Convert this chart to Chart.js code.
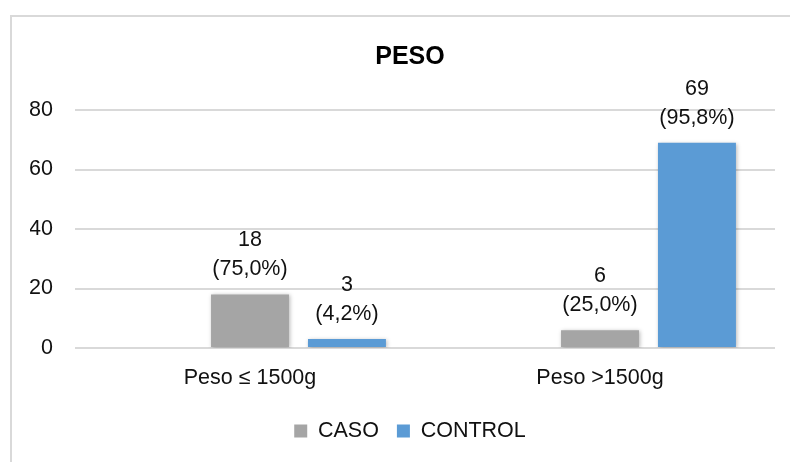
<!DOCTYPE html>
<html>
<head>
<meta charset="utf-8">
<script src="https://cdn.jsdelivr.net/npm/chart.js@4/dist/chart.umd.min.js"></script>
<style>
  html, body { margin: 0; padding: 0; background: #fff; overflow: hidden; }
  #frame {
    position: absolute; left: 10px; top: 15px; width: 820px; height: 480px;
    border-left: 2px solid #d9d9d9; border-top: 2px solid #d9d9d9;
  }
  #wrap { position: absolute; left: 0; top: 0; width: 790px; height: 462px; }
</style>
</head>
<body>
<div id="frame"></div>
<div id="wrap"><canvas id="pesoChart" width="790" height="462"></canvas></div>
<script>
const FONT = '"Liberation Sans", Arial, sans-serif';
const TXT = 21.5;

// datos
const categories = ['Peso \u2264 1500g', 'Peso >1500g'];
const casoValues = [18, 6];
const controlValues = [3, 69];
const casoPct = ['75,0%', '25,0%'];
const controlPct = ['4,2%', '95,8%'];
const blankSeries = [null, null]; // serie vacía (Excel deja el hueco a la izquierda)
const yTicks = [0, 20, 40, 60, 80];

// etiquetas de datos: valor + (porcentaje)
const dataLabels = {
  id: 'dataLabels',
  afterDatasetsDraw(chart) {
    const ctx = chart.ctx;
    ctx.save();
    ctx.font = TXT + 'px ' + FONT;
    ctx.fillStyle = '#111';
    ctx.textAlign = 'center';
    ctx.textBaseline = 'middle';
    chart.data.datasets.forEach((ds, i) => {
      if (!ds.pct) return;
      chart.getDatasetMeta(i).data.forEach((bar, j) => {
        ctx.fillText(String(ds.data[j]), bar.x, bar.y - 54);
        ctx.fillText('(' + ds.pct[j] + ')', bar.x, bar.y - 25);
      });
    });
    ctx.restore();
  }
};

// sombra suave de las barras
const barShadow = {
  id: 'barShadow',
  beforeDatasetsDraw(chart) {
    const ctx = chart.ctx;
    ctx.save();
    ctx.shadowColor = 'rgba(0,0,0,0.28)';
    ctx.shadowBlur = 4;
    ctx.shadowOffsetX = 1;
    ctx.shadowOffsetY = 1;
  },
  afterDatasetsDraw(chart) {
    chart.ctx.restore();
  }
};

new Chart(document.getElementById('pesoChart'), {
  type: 'bar',
  data: {
    labels: categories,
    datasets: [
      { label: '', data: blankSeries, backgroundColor: 'rgba(0,0,0,0)' },
      { label: 'CASO', data: casoValues, pct: casoPct, backgroundColor: '#a5a5a5' },
      { label: 'CONTROL', data: controlValues, pct: controlPct, backgroundColor: '#5b9bd5' }
    ]
  },
  options: {
    responsive: false,
    animation: false,
    layout: { padding: { left: 30, right: 0, top: 0, bottom: 10.25 } },
    datasets: { bar: { categoryPercentage: 0.831, barPercentage: 0.804 } },
    plugins: {
      title: {
        display: true,
        text: 'PESO',
        color: '#000',
        font: { family: FONT, size: 25, weight: 'bold' },
        padding: { top: 42, bottom: 38 }
      },
      legend: {
        position: 'bottom',
        labels: {
          filter: item => item.text !== '',
          boxWidth: 13,
          boxHeight: 13,
          padding: 18,
          color: '#111',
          font: { family: FONT, size: TXT }
        }
      },
      tooltip: { enabled: false }
    },
    scales: {
      x: {
        grid: { display: false, drawTicks: false },
        border: { display: false },
        ticks: { color: '#111', padding: 17, font: { family: FONT, size: TXT } },
        afterFit(scale) { scale.height = 54.25; }
      },
      y: {
        min: 0,
        max: 80,
        afterBuildTicks(scale) { scale.ticks = yTicks.map(v => ({ value: v })); },
        grid: { color: '#d9d9d9', lineWidth: 2, drawTicks: false },
        border: { display: false },
        ticks: { color: '#111', padding: 22, font: { family: FONT, size: TXT } },
        afterFit(scale) { scale.width = 45; }
      },
      // eje derecho vacío, sólo para dejar el margen como en el original
      yRight: {
        position: 'right',
        grid: { display: false, drawTicks: false },
        border: { display: false },
        ticks: { display: false },
        afterFit(scale) { scale.width = 15; }
      }
    }
  },
  plugins: [barShadow, dataLabels]
});
</script>
</body>
</html>
